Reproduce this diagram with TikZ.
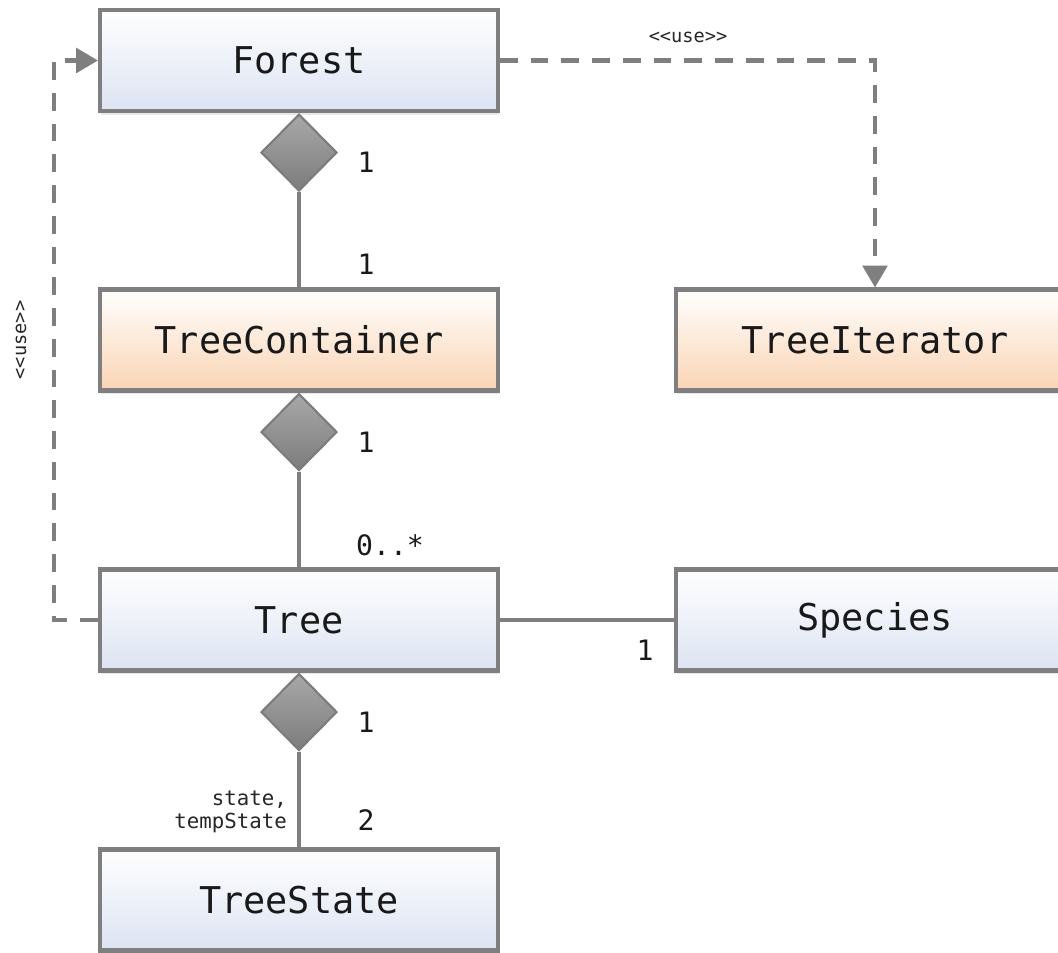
\documentclass[tikz,border=0pt]{standalone}
\usepackage{fontspec}
\setmonofont{DejaVu Sans Mono}
\usetikzlibrary{positioning,shapes.geometric,arrows.meta,shadows}

\definecolor{linegray}{HTML}{7F7F7F}
\definecolor{clsblue}{HTML}{DCE3F2}
\definecolor{clsorange}{HTML}{FAD4B4}
\definecolor{diamtop}{HTML}{A8A8A8}
\definecolor{diambot}{HTML}{7C7C7C}

\tikzset{
  cls/.style={draw=linegray, line width=2.3pt,
    minimum width=7.96cm, minimum height=2.02cm,
    top color=white, bottom color=clsblue,
    font=\ttfamily\fontsize{21}{25}\selectfont, text=black!90,
    drop shadow={shadow xshift=0.6pt, shadow yshift=-2.2pt, opacity=0.18}},
  clsorange/.style={cls, bottom color=clsorange},
  comp/.style={diamond, aspect=1, inner sep=0pt,
    minimum width=1.52cm, minimum height=1.54cm,
    draw=diambot, line width=1.2pt, top color=diamtop, bottom color=diambot},
  link/.style={draw=linegray, line width=2.3pt},
  usedep/.style={link, dash pattern=on 10pt off 7.5pt,
    -{Triangle[length=12.5pt,width=14pt]}},
  mult/.style={font=\ttfamily\fontsize{16}{19}\selectfont, text=black!90},
  role/.style={font=\ttfamily\fontsize{11.8}{13}\selectfont, text=black!85, align=right},
  stereo/.style={font=\ttfamily\fontsize{10.6}{12}\selectfont, text=black!85}
}

\begin{document}
\begin{tikzpicture}[x=0.02cm, y=-0.02cm]
\useasboundingbox (0,0) rectangle (1058,953);
\clip (0,0) rectangle (1058,953);

% classes (1 unit = 1 px)
\node[cls] (forest) at (299,60.5) {Forest};
\node[clsorange] (container) at (299,340) {TreeContainer};
\node[clsorange] (iterator) at (875,340) {TreeIterator};
\node[cls] (tree) at (299,620) {Tree};
\node[cls] (species) at (875,620) {Species};
\node[cls] (state) at (299,900) {TreeState};

% compositions
\node[comp, anchor=north] (forest-d) at (forest.south) {};
\draw[link] (forest-d.south) -- (container.north);
\node[comp, anchor=north] (container-d) at (container.south) {};
\draw[link] (container-d.south) -- (tree.north);
\node[comp, anchor=north] (tree-d) at (tree.south) {};
\draw[link] (tree-d.south) -- (state.north);

% plain association
\draw[link] (tree) -- (species);

% dependencies
\draw[usedep] (forest.east) -| (iterator.north);
\draw[usedep] (tree.west) -- ++(-44,0) |- (forest.west);

% multiplicities
\node[mult] (m1) at (366,162) {1};
\node[mult] (m2) at (366,264) {1};
\node[mult] (m3) at (366,442) {1};
\node[mult] (m4) at (390,545) {0..*};
\node[mult] (m5) at (366,722) {1};
\node[mult] (m6) at (366,820) {2};
\node[mult] (m7) at (645,650) {1};
\node[role, anchor=east] (roles) at (293,812) {state,\\tempState};

% stereotypes
\node[stereo] (use1) at (688,37) {<<use>>};
\node[stereo, rotate=90] (use2) at (21,340) {<<use>>};

\end{tikzpicture}
\end{document}
